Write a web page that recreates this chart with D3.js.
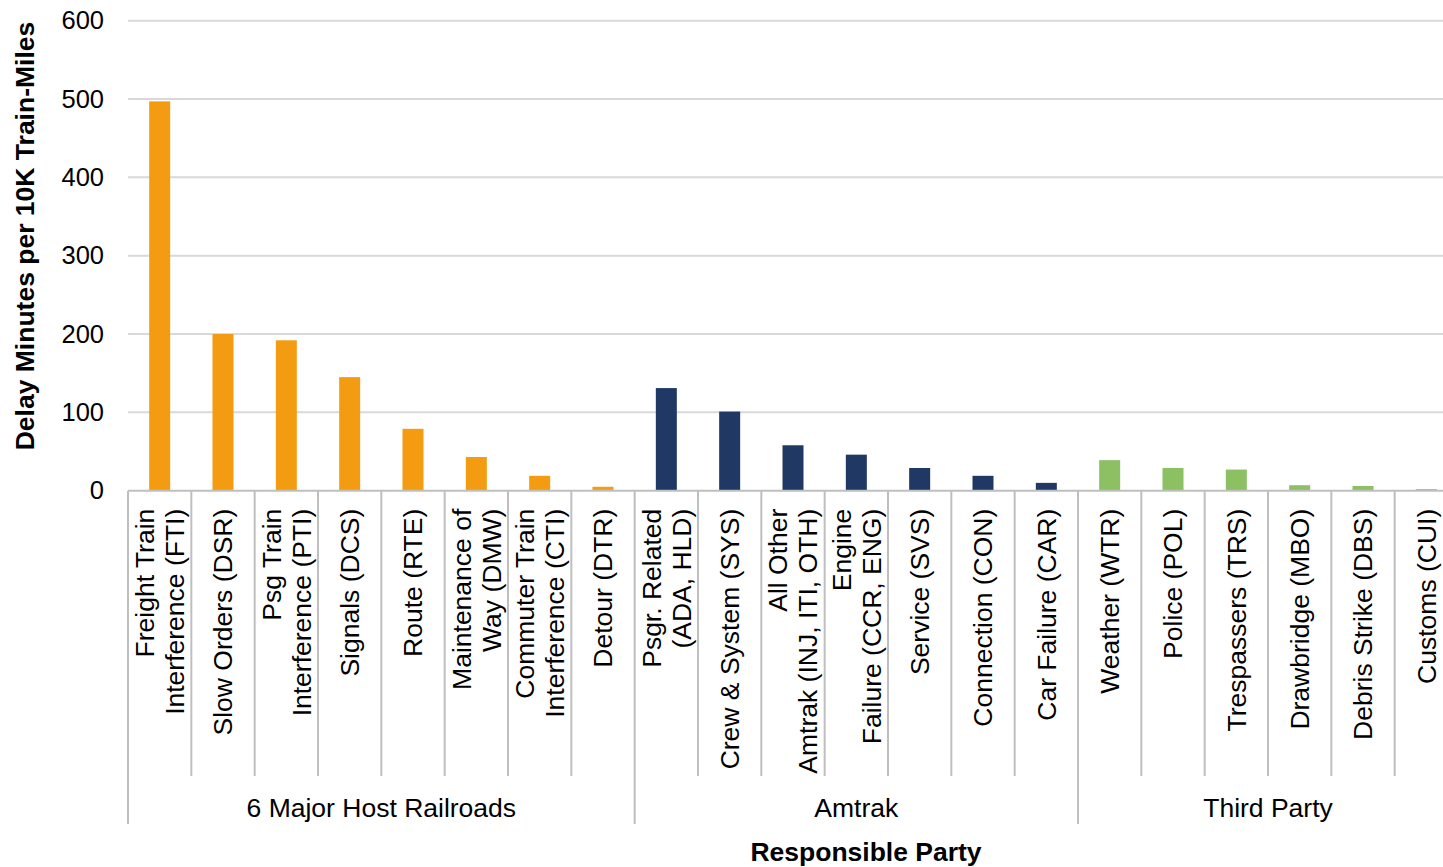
<!DOCTYPE html>
<html>
<head>
<meta charset="utf-8">
<script src="https://cdn.jsdelivr.net/npm/d3@7"></script>
<style>
  body { margin: 0; background: #fff; }
  svg { display: block; font-family: "Liberation Sans", Arial, sans-serif; }
</style>
</head>
<body>
<div id="chart"></div>
<script>
const width = 1443, height = 867;
const margin = ({top: 20.7, left: 128, bottom: 376.3});

const groups = ["6 Major Host Railroads", "Amtrak", "Third Party"];
const groupSizes = [8, 7, 6];
const colors = ["#F39C12", "#1F3864", "#8CC063"];

const labels = [
  "Freight Train\nInterference (FTI)", "Slow Orders (DSR)", "Psg Train\nInterference (PTI)",
  "Signals (DCS)", "Route (RTE)", "Maintenance of\nWay (DMW)", "Commuter Train\nInterference (CTI)",
  "Detour (DTR)",
  "Psgr. Related\n(ADA, HLD)", "Crew & System (SYS)", "All Other\nAmtrak (INJ, ITI, OTH)",
  "Engine\nFailure (CCR, ENG)", "Service (SVS)", "Connection (CON)", "Car Failure (CAR)",
  "Weather (WTR)", "Police (POL)", "Trespassers (TRS)", "Drawbridge (MBO)",
  "Debris Strike (DBS)", "Customs (CUI)"
];
const values = [497, 200, 192, 145, 79, 43, 19, 5,
                131, 101, 58, 46, 29, 19, 10,
                39, 29, 27, 7, 6, 2];
const yTicks = [0, 100, 200, 300, 400, 500, 600];

// group index per category
const groupIdx = [];
groupSizes.forEach((n, g) => { for (let i = 0; i < n; i++) groupIdx.push(g) });

const svg = d3.select("#chart").append("svg")
  .attr("width", width).attr("height", height);

const y0 = height - margin.bottom;
const x = d3.scaleBand()
  .domain(d3.range(labels.length))
  .range([margin.left, 1458])
  .paddingInner(0).paddingOuter(0);

const y = d3.scaleLinear()
  .domain([0, 600])
  .range([y0, margin.top]);

// gridlines
svg.append("g")
  .selectAll("line")
  .data(yTicks.slice(1))
  .join("line")
  .attr("x1", margin.left).attr("x2", width)
  .attr("y1", d => y(d)).attr("y2", d => y(d))
  .attr("stroke", "#D9D9D9").attr("stroke-width", 2);

// y axis
const yAxis = g => g
  .attr("transform", `translate(${margin.left},0)`)
  .call(d3.axisLeft(y).tickValues(yTicks).tickSize(0).tickPadding(24))
  .call(g => g.select(".domain").remove())
  .call(g => g.selectAll("text")
    .attr("font-size", 25.5)
    .attr("font-family", "Liberation Sans, Arial, sans-serif")
    .attr("fill", "#000"));
svg.append("g").call(yAxis);

// bars
const barW = 21;
svg.append("g")
  .selectAll("rect")
  .data(values)
  .join("rect")
  .attr("x", (d, i) => x(i) + x.bandwidth() / 2 - barW / 2)
  .attr("width", barW)
  .attr("y", d => y(d))
  .attr("height", d => y(0) - y(d))
  .attr("fill", (d, i) => colors[groupIdx[i]]);

// baseline
svg.append("line")
  .attr("x1", margin.left).attr("x2", width)
  .attr("y1", y0).attr("y2", y0)
  .attr("stroke", "#BFBFBF").attr("stroke-width", 2);

// category separators
const catBottom = 776;
const grpBottom = 824;
const groupStarts = [0];
groupSizes.forEach((n, g) => groupStarts.push(groupStarts[g] + n));

svg.append("g")
  .selectAll("line")
  .data(d3.range(labels.length))
  .join("line")
  .attr("x1", i => x(i)).attr("x2", i => x(i))
  .attr("y1", y0)
  .attr("y2", i => groupStarts.includes(i) ? grpBottom : catBottom)
  .attr("stroke", "#BFBFBF").attr("stroke-width", 2);

// category labels
const lineH = 30;
const catLabels = svg.append("g")
  .selectAll("text")
  .data(labels)
  .join("text")
  .attr("transform", (d, i) => `translate(${x(i) + x.bandwidth() / 2},${y0 + 18}) rotate(-90)`)
  .attr("text-anchor", "end")
  .attr("font-size", 26.5)
  .attr("fill", "#000");

catLabels.each(function(d) {
  const lines = d.split("\n");
  const t = d3.select(this);
  lines.forEach((ln, k) => {
    t.append("tspan")
      .attr("x", 0)
      .attr("y", (k - (lines.length - 1) / 2) * lineH)
      .attr("dy", "0.35em")
      .text(ln);
  });
});

// group labels
svg.append("g")
  .selectAll("text")
  .data(groups)
  .join("text")
  .attr("x", (d, g) => (x(groupStarts[g]) + (groupStarts[g + 1] < labels.length ? x(groupStarts[g + 1]) : x.range()[1])) / 2)
  .attr("y", 808)
  .attr("dy", "0.35em")
  .attr("text-anchor", "middle")
  .attr("font-size", 26.5)
  .text(d => d);

// axis titles
svg.append("text")
  .attr("transform", `translate(25,236) rotate(-90)`)
  .attr("text-anchor", "middle")
  .attr("dy", "0.35em")
  .attr("font-size", 26.5)
  .attr("font-weight", "bold")
  .text("Delay Minutes per 10K Train-Miles");

svg.append("text")
  .attr("x", 866).attr("y", 852)
  .attr("dy", "0.35em")
  .attr("text-anchor", "middle")
  .attr("font-size", 26.5)
  .attr("font-weight", "bold")
  .text("Responsible Party");
</script>
</body>
</html>
